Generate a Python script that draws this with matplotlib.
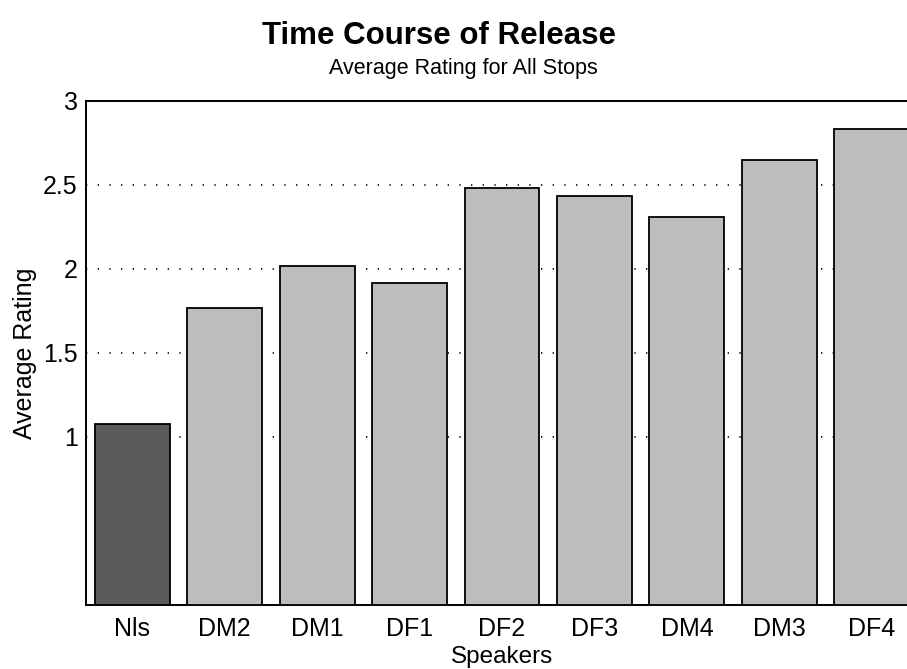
import numpy as np
import matplotlib.pyplot as plt

plt.rcParams['font.family'] = ['Liberation Sans', 'DejaVu Sans']

speakers = ['Nls', 'DM2', 'DM1', 'DF1', 'DF2', 'DF3', 'DM4', 'DM3', 'DF4']
ratings = [1.08, 1.77, 2.02, 1.915, 2.48, 2.436, 2.31, 2.65, 2.835]
bar_colors = ['#5a5a5a'] + ['#bdbdbd'] * 8
yticks = [1, 1.5, 2, 2.5, 3]

fig = plt.figure(figsize=(9.07, 6.69), dpi=100)
W, H = 907, 669
# axes runs a little past the right edge, as in the original
ax = fig.add_axes([86 / W, 1 - 605 / H, 832 / W, 504 / H])

x = np.arange(len(speakers))
ax.bar(x, ratings, width=0.81, color=bar_colors, edgecolor='black',
       linewidth=1.3, zorder=3)

for y in yticks[:-1]:
    ax.axhline(y, color='black', linewidth=1.2, dashes=(0.8, 6.2), zorder=1)

ax.set_xlim(-0.5, len(speakers) - 0.5)
ax.set_ylim(0, 3)
ax.set_yticks(yticks)
ax.set_yticklabels(['1', '1.5', '2', '2.5', '3'])
ax.set_xticks(x)
ax.set_xticklabels(speakers)
ax.tick_params(axis='both', length=0, labelsize=18)
ax.tick_params(axis='x', pad=9)
ax.tick_params(axis='y', pad=6)
for s in ax.spines.values():
    s.set_linewidth(1.4)

ax.set_xlabel('Speakers', fontsize=17.5, labelpad=3)
ax.set_ylabel('Average Rating', fontsize=18, labelpad=4)

fig.text(439 / W, 1 - 44 / H, 'Time Course of Release', fontsize=22.5,
         fontweight='bold', ha='center', va='baseline')
fig.text(463 / W, 1 - 74 / H, 'Average Rating for All Stops', fontsize=15.5,
         ha='center', va='baseline')

fig.savefig('out.png', dpi=100)
